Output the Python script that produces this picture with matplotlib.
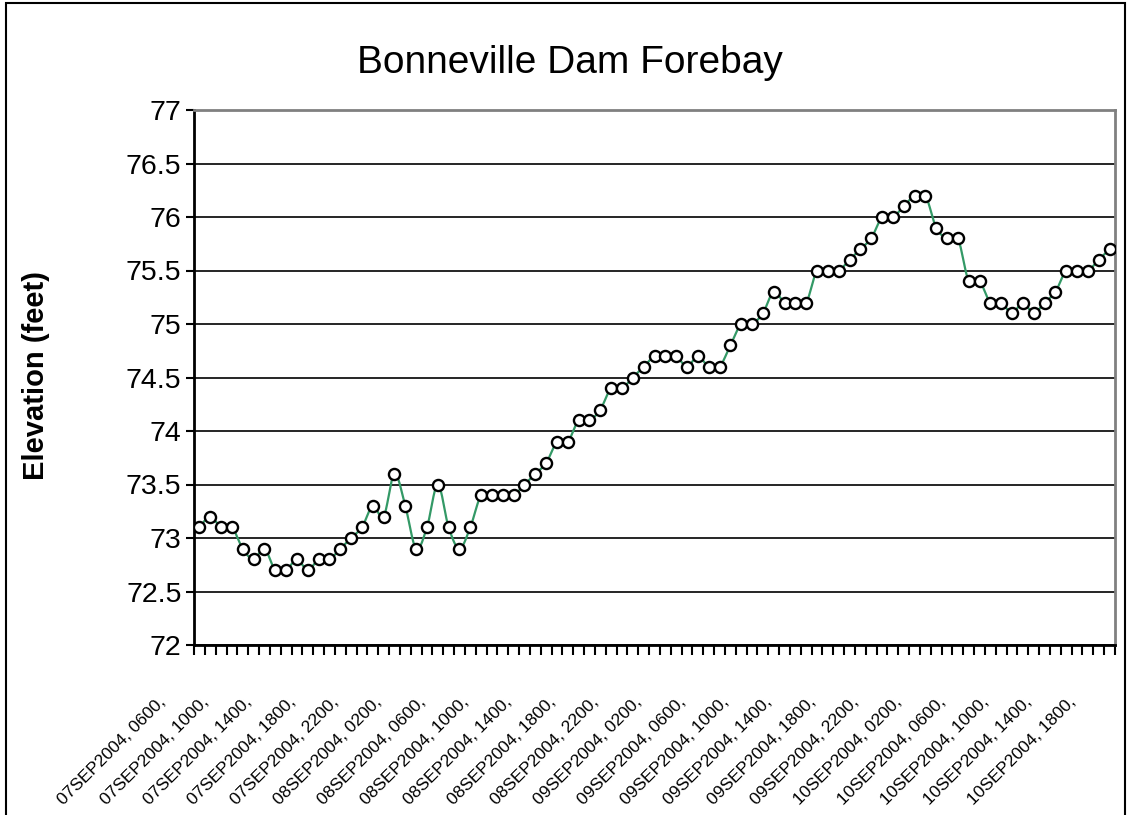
import numpy as np
import matplotlib
matplotlib.use('Agg')
import matplotlib.pyplot as plt
from matplotlib import transforms
from matplotlib.patches import Rectangle

# hourly forebay elevation, 07SEP2004 0600 -> 10SEP2004 1800
elevation = [
    73.1, 73.2, 73.1, 73.1, 72.9, 72.8, 72.9, 72.7, 72.7, 72.8,
    72.7, 72.8, 72.8, 72.9, 73.0, 73.1, 73.3, 73.2, 73.6, 73.3,
    72.9, 73.1, 73.5, 73.1, 72.9, 73.1, 73.4, 73.4, 73.4, 73.4,
    73.5, 73.6, 73.7, 73.9, 73.9, 74.1, 74.1, 74.2, 74.4, 74.4,
    74.5, 74.6, 74.7, 74.7, 74.7, 74.6, 74.7, 74.6, 74.6, 74.8,
    75.0, 75.0, 75.1, 75.3, 75.2, 75.2, 75.2, 75.5, 75.5, 75.5,
    75.6, 75.7, 75.8, 76.0, 76.0, 76.1, 76.2, 76.2, 75.9, 75.8,
    75.8, 75.4, 75.4, 75.2, 75.2, 75.1, 75.2, 75.1, 75.2, 75.3,
    75.5, 75.5, 75.5, 75.6, 75.7,
]
days = ['07SEP2004', '08SEP2004', '09SEP2004', '10SEP2004']
label_every = 4
start_hour = 6

y_ticks = [72, 72.5, 73, 73.5, 74, 74.5, 75, 75.5, 76, 76.5, 77]
y_ticklabels = ['72', '72.5', '73', '73.5', '74', '74.5', '75', '75.5', '76', '76.5', '77']

plt.rcParams['font.family'] = ['Liberation Sans', 'DejaVu Sans']


def smooth_curve(x, y, steps=16):
    # Excel-style smoothed line (cubic bezier, tension 1/6)
    x = np.asarray(x, float)
    y = np.asarray(y, float)
    px = np.concatenate([[x[0]], x, [x[-1]]])
    py = np.concatenate([[y[0]], y, [y[-1]]])
    t = np.linspace(0, 1, steps)[:-1]
    xs, ys = [], []
    for i in range(1, len(px) - 2):
        p0 = np.array([px[i], py[i]])
        p3 = np.array([px[i + 1], py[i + 1]])
        p1 = p0 + (p3 - np.array([px[i - 1], py[i - 1]])) / 6.0
        p2 = p3 - (np.array([px[i + 2], py[i + 2]]) - p0) / 6.0
        b = ((1 - t) ** 3)[:, None] * p0 + (3 * (1 - t) ** 2 * t)[:, None] * p1 \
            + (3 * (1 - t) * t ** 2)[:, None] * p2 + (t ** 3)[:, None] * p3
        xs.append(b[:, 0])
        ys.append(b[:, 1])
    xs.append([x[-1]])
    ys.append([y[-1]])
    return np.concatenate(xs), np.concatenate(ys)


n = len(elevation)
xk = np.arange(n)

W, H = 1128, 815
fig = plt.figure(figsize=(W / 100, H / 100), dpi=100)
ax = fig.add_axes([194 / W, 1 - 645 / H, (1115 - 194) / W, (645 - 110) / H])

sx, sy = smooth_curve(xk, elevation)
ax.plot(sx, sy, color='#339966', linewidth=1.6, zorder=3)
ax.plot(xk, elevation, linestyle='none', marker='o', markersize=8,
        markerfacecolor='white', markeredgecolor='black', markeredgewidth=1.7, zorder=4)

ax.set_xlim(-0.5, n - 0.5)
ax.set_ylim(72, 77)
ax.set_yticks(y_ticks)
ax.set_yticklabels(y_ticklabels, fontsize=20.5)
ax.yaxis.grid(True, color='black', linewidth=1.2)
ax.set_axisbelow(True)
ax.tick_params(axis='y', length=6, width=1.5, direction='out', pad=3)

# category boundaries as ticks, no tick labels
ax.set_xticks(np.arange(n + 1) - 0.5)
ax.set_xticklabels([])
ax.tick_params(axis='x', length=7, width=1.5, direction='out')

for side in ['left', 'bottom']:
    ax.spines[side].set_linewidth(2)
    ax.spines[side].set_color('black')
for side in ['top', 'right']:
    ax.spines[side].set_linewidth(2)
    ax.spines[side].set_color('#808080')

# rotated category labels every 4 hours
blend = transforms.blended_transform_factory(ax.transData, ax.transAxes)
offset = transforms.ScaledTranslation(-42 / 100, -49 / 100, fig.dpi_scale_trans)
for k in range(0, n, label_every):
    hour = start_hour + k
    lab = '%s, %02d00,' % (days[hour // 24], hour % 24)
    ax.text(k, 0, lab, transform=blend + offset, rotation=45, rotation_mode='anchor',
            ha='right', va='top', fontsize=12.5)

ax.set_ylabel('Elevation (feet)', fontsize=21, fontweight='bold')
ax.yaxis.set_label_coords(36 / W, 1 - 376 / H, transform=fig.transFigure)
ax.yaxis.label.set_va('center')

fig.text(570 / W, 1 - 73 / H, 'Bonneville Dam Forebay', fontsize=28,
         ha='center', va='baseline')

# chart area border
fig.patches.append(Rectangle((6 / W, -0.05), (1125 - 6) / W, 1.05 - 3 / H,
                             transform=fig.transFigure, fill=False,
                             edgecolor='black', linewidth=1.5))

fig.savefig('out.png', dpi=100)
